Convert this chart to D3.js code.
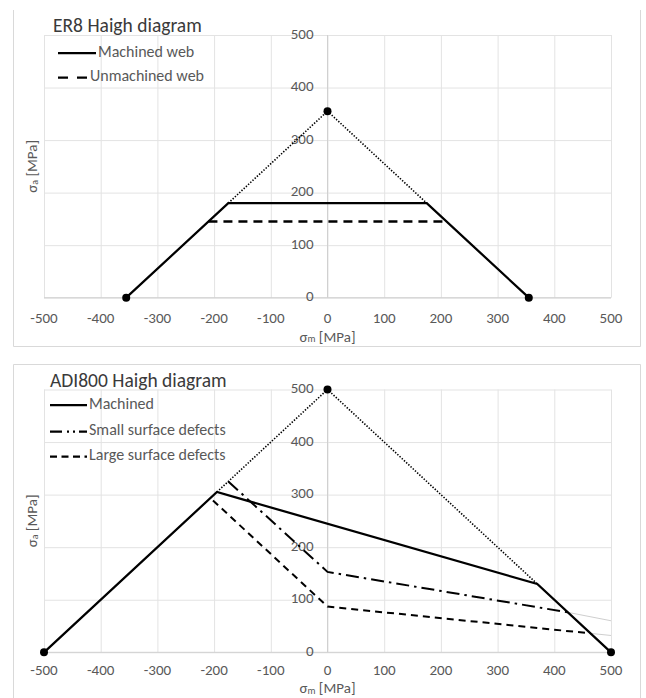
<!DOCTYPE html>
<html><head><meta charset="utf-8">
<script src="https://cdn.jsdelivr.net/npm/d3@7"></script>
<style>
html,body{margin:0;padding:0;background:#fff;}
svg{display:block;font-family:Carlito,Calibri,Lato,"Open Sans",sans-serif;}
</style></head>
<body>
<svg id="c" width="646" height="698"></svg>
<script>
// ---- shared axes ----
const xTicks = [-500,-400,-300,-200,-100,0,100,200,300,400,500];
const yTicks = [0,100,200,300,400,500];

// ---- ER8 ----
const er8Title = "ER8 Haigh diagram";
const er8LegendNames = ["Machined web","Unmachined web"];
const er8Machined = [[-355,0],[-175,180],[175,180],[355,0]];
const er8Unmachined = [[-210,145],[210,145]];
const er8Dotted = [[-175,180],[0,355],[175,180]];
const er8Dots = [[-355,0],[0,355],[355,0]];

// ---- ADI800 ----
const adiTitle = "ADI800 Haigh diagram";
const adiLegendNames = ["Machined","Small surface defects","Large surface defects"];
const adiMachined = [[-500,0],[-195,305],[370,130],[500,0]];
const adiSmall = [[-175,325],[0,153],[424,76]];
const adiSmallFaint = [[424,76],[500,60]];
const adiLarge = [[-202,289],[0,87],[464,36]];
const adiLargeFaint = [[464,36],[500,32]];
const adiDotted = [[-195,305],[0,500],[370,130]];
const adiDots = [[-500,0],[0,500],[500,0]];

const svg = d3.select("#c");
const FONT_TICK = 15, FONT_LEG = 16, FONT_TITLE = 19.5;
const txtCol = "#595959";

function panel(opt){
  const g = svg.append("g");
  // frame
  g.append("path")
    .attr("d", `M${opt.box[0]},${opt.box[1]}V${opt.box[3]}H${opt.box[2]}V${opt.box[1]}` + (opt.topLine?`H${opt.box[0]}`:""))
    .attr("fill","none").attr("stroke","#d9d9d9").attr("stroke-width",1);
  const x = d3.scaleLinear().domain([-500,500]).range([44,611]);
  const y = d3.scaleLinear().domain([0,500]).range(opt.yRange);
  // grid
  g.append("g").attr("transform",`translate(0,${y(0)})`)
    .call(d3.axisBottom(x).tickValues(xTicks).tickSize(-(y(0)-y(500))).tickFormat(""))
    .call(a=>{a.select(".domain").remove(); a.selectAll("line").attr("stroke","#e3e3e3");});
  g.append("g").attr("transform",`translate(${x(-500)},0)`)
    .call(d3.axisLeft(y).tickValues(yTicks).tickSize(-(x(500)-x(-500))).tickFormat(""))
    .call(a=>{a.select(".domain").remove(); a.selectAll("line").attr("stroke","#e3e3e3");});
  // axis lines (slightly darker)
  g.append("line").attr("x1",x(-500)).attr("x2",x(500)).attr("y1",y(0)).attr("y2",y(0)).attr("stroke","#d0d0d0");
  g.append("line").attr("x1",x(0)).attr("x2",x(0)).attr("y1",y(0)).attr("y2",y(500)).attr("stroke","#d0d0d0");
  // tick labels
  g.append("g").selectAll("text").data(xTicks).join("text")
    .attr("x",d=>x(d)).attr("y",y(0)+opt.xTickDy).attr("text-anchor","middle").attr("dominant-baseline","middle")
    .attr("font-size",FONT_TICK).attr("fill",txtCol).text(d=>d);
  g.append("g").selectAll("text").data(yTicks).join("text")
    .attr("x",x(0)-14).attr("y",d=>y(d)).attr("text-anchor","end").attr("dominant-baseline","middle")
    .attr("font-size",FONT_TICK).attr("fill",txtCol).text(d=>d);
  // axis titles
  const xt = g.append("text").attr("x",x(0)).attr("y",y(0)+opt.xTitleDy).attr("text-anchor","middle")
    .attr("dominant-baseline","middle").attr("font-size",FONT_TICK).attr("fill",txtCol);
  xt.append("tspan").text("σ");
  xt.append("tspan").attr("font-size",10).attr("dy",2.5).text("m");
  xt.append("tspan").attr("dy",-2.5).text(" [MPa]");
  const yt = g.append("text").attr("transform",`translate(33,${(y(0)+y(500))/2}) rotate(-90)`)
    .attr("text-anchor","middle").attr("dominant-baseline","middle").attr("font-size",FONT_TICK).attr("fill",txtCol);
  yt.append("tspan").text("σ");
  yt.append("tspan").attr("font-size",10).attr("dy",2.5).text("a");
  yt.append("tspan").attr("dy",-2.5).text(" [MPa]");
  // title
  g.append("text").attr("x",opt.titleX).attr("y",opt.titleY).attr("font-size",FONT_TITLE)
    .attr("fill","#3a3a3a").text(opt.title);
  const line = d3.line().x(d=>x(d[0])).y(d=>y(d[1]));
  return {g,x,y,line};
}

function drawSeries(P, data, stroke, width, dash){
  P.g.append("path").datum(data).attr("d",P.line).attr("fill","none")
    .attr("stroke",stroke).attr("stroke-width",width)
    .attr("stroke-dasharray",dash||null).attr("stroke-linejoin","miter");
}
function legendItem(P, x0, x1, yy, dash, label){
  P.g.append("line").attr("x1",x0).attr("x2",x1).attr("y1",yy).attr("y2",yy)
    .attr("stroke","#000").attr("stroke-width",2.25).attr("stroke-dasharray",dash||null);
  P.g.append("text").attr("x",x1+2).attr("y",yy).attr("dominant-baseline","middle")
    .attr("font-size",FONT_LEG).attr("fill",txtCol).text(label);
}

// ---- top panel ----
const T = panel({box:[13.5,10,640.5,346.5], yRange:[297.7,35], title:er8Title, titleX:53, titleY:32, xTickDy:22, xTitleDy:40});
drawSeries(T, er8Dotted, "#000", 1.6, "1.4 1.6");
drawSeries(T, er8Machined, "#000", 2.25);
drawSeries(T, er8Unmachined, "#000", 2.5, "9 6");
T.g.selectAll("circle.d").data(er8Dots).join("circle").attr("class","d")
  .attr("cx",d=>T.x(d[0])).attr("cy",d=>T.y(d[1])).attr("r",4).attr("fill","#000");
legendItem(T, 58, 96, 53, null, er8LegendNames[0]);
legendItem(T, 58, 88, 77.5, "10 9", er8LegendNames[1]);

// ---- bottom panel ----
const B = panel({box:[13.5,364.5,640.5,699], yRange:[652.3,389.5], title:adiTitle, titleX:50, titleY:387, topLine:true, xTickDy:19.5, xTitleDy:37});
drawSeries(B, adiSmallFaint, "#cfcfcf", 1);
drawSeries(B, adiLargeFaint, "#cfcfcf", 1);
drawSeries(B, adiDotted, "#000", 1.6, "1.4 1.6");
drawSeries(B, adiMachined, "#000", 2.25);
drawSeries(B, adiSmall, "#000", 2, "13 5 2.5 5");
drawSeries(B, adiLarge, "#000", 2, "7 5");
B.g.selectAll("circle.d").data(adiDots).join("circle").attr("class","d")
  .attr("cx",d=>B.x(d[0])).attr("cy",d=>B.y(d[1])).attr("r",4).attr("fill","#000");
legendItem(B, 50, 87, 405, null, adiLegendNames[0]);
legendItem(B, 50, 87, 431.5, "12 5 2 4 2 4", adiLegendNames[1]);
legendItem(B, 50, 87, 456.5, "7 4.5", adiLegendNames[2]);
</script>
</body></html>
